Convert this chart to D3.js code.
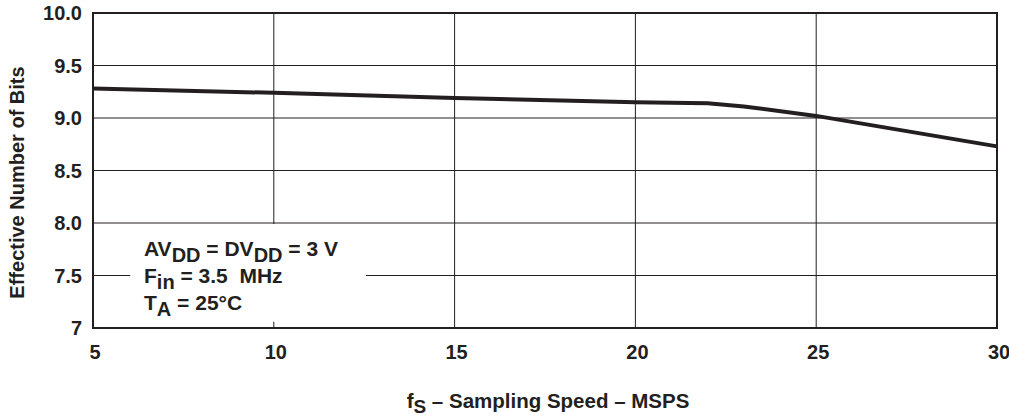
<!DOCTYPE html>
<meta charset="utf-8">
<head>
<style>
  body { margin: 0; background: #fff; }
  text { font-family: "Liberation Sans", Arial, sans-serif; font-weight: bold; fill: #231f20; }
</style>
</head>
<title>ENOB vs Sampling Speed</title>
<script src="https://d3js.org/d3.v7.min.js"></script>
<div id="chart"></div>
<script>

// values
var speed = [5, 10, 15, 20, 22, 23, 25, 30];
var enob  = [9.28, 9.24, 9.19, 9.15, 9.14, 9.11, 9.02, 8.73];

var xTicks = [5, 10, 15, 20, 25, 30];
var yTicks = [7, 7.5, 8, 8.5, 9, 9.5, 10];
var yTickLabels = ["7", "7.5", "8.0", "8.5", "9.0", "9.5", "10.0"];

var W = 1009, H = 417;
var margin = {top: 13, right: 12, bottom: 89, left: 93},
    width = W - margin.left - margin.right,
    height = H - margin.top - margin.bottom;

var svg = d3.select("#chart")
  .append("svg")
    .attr("width", W)
    .attr("height", H)
  .append("g")
    .attr("transform", "translate(" + margin.left + "," + margin.top + ")");

var x = d3.scaleLinear().domain([5, 30]).range([0, width]);
var y = d3.scaleLinear().domain([7, 10]).range([height, 0]);

// grid
svg.selectAll(".vgrid")
  .data(xTicks)
  .enter().append("line")
    .attr("x1", function(d) { return x(d); })
    .attr("x2", function(d) { return x(d); })
    .attr("y1", 0).attr("y2", height)
    .attr("stroke", "#231f20").attr("stroke-width", 1);

svg.selectAll(".hgrid")
  .data(yTicks)
  .enter().append("line")
    .attr("y1", function(d) { return y(d); })
    .attr("y2", function(d) { return y(d); })
    .attr("x1", 0).attr("x2", width)
    .attr("stroke", "#231f20").attr("stroke-width", 1);

// white box behind the conditions
svg.append("rect")
  .attr("x", x(6.03)).attr("y", y(7.99) )
  .attr("width", x(12.55) - x(6.03))
  .attr("height", y(7.06) - y(7.99))
  .attr("fill", "#fff");

// data line
var line = d3.line()
  .x(function(d, i) { return x(speed[i]); })
  .y(function(d) { return y(d); });

svg.append("path")
  .datum(enob)
  .attr("d", line)
  .attr("fill", "none")
  .attr("stroke", "#231f20")
  .attr("stroke-width", 4);

// frame
svg.append("rect")
  .attr("x", 0).attr("y", 0)
  .attr("width", width).attr("height", height)
  .attr("fill", "none")
  .attr("stroke", "#231f20")
  .attr("stroke-width", 2);

// tick labels
svg.selectAll(".xlab")
  .data(xTicks)
  .enter().append("text")
    .attr("x", function(d) { return x(d) + 2; })
    .attr("y", height + 31)
    .attr("text-anchor", "middle")
    .style("font-size", "20px")
    .text(function(d) { return d; });

svg.selectAll(".ylab")
  .data(yTicks)
  .enter().append("text")
    .attr("x", -11)
    .attr("y", function(d) { return y(d) + 7; })
    .attr("text-anchor", "end")
    .style("font-size", "20px")
    .text(function(d, i) { return yTickLabels[i]; });

// axis titles
svg.append("text")
  .attr("transform", "translate(" + (-69) + "," + (height / 2 + 12) + ") rotate(-90)")
  .attr("text-anchor", "middle")
  .style("font-size", "20px")
  .text("Effective Number of Bits");

var xt = svg.append("text")
  .attr("x", width / 2 + 3)
  .attr("y", height + 80)
  .attr("text-anchor", "middle")
  .style("font-size", "20.5px");
xt.append("tspan").text("f");
xt.append("tspan").attr("dy", 5).style("font-size", "19px").text("S");
xt.append("tspan").attr("dy", -5).text(" \u2013 Sampling Speed \u2013 MSPS");

// conditions
var cx = 51, lines = [
  [["AV", 0], ["DD", 1], [" = DV", 0], ["DD", 1], [" = 3 V", 0]],
  [["F", 0], ["in", 1], [" = 3.5  MHz", 0]],
  [["T", 0], ["A", 1], [" = 25\u00b0C", 0]]
];
lines.forEach(function(parts, k) {
  var t = svg.append("text")
    .attr("x", cx)
    .attr("y", 243 + k * 27)
    .style("font-size", "21px")
    .attr("xml:space", "preserve");
  var prev = 0;
  parts.forEach(function(p) {
    t.append("tspan")
      .attr("dy", (p[1] - prev) * 6)
      .style("font-size", p[1] ? "20px" : "21px")
      .text(p[0]);
    prev = p[1];
  });
});

</script>
